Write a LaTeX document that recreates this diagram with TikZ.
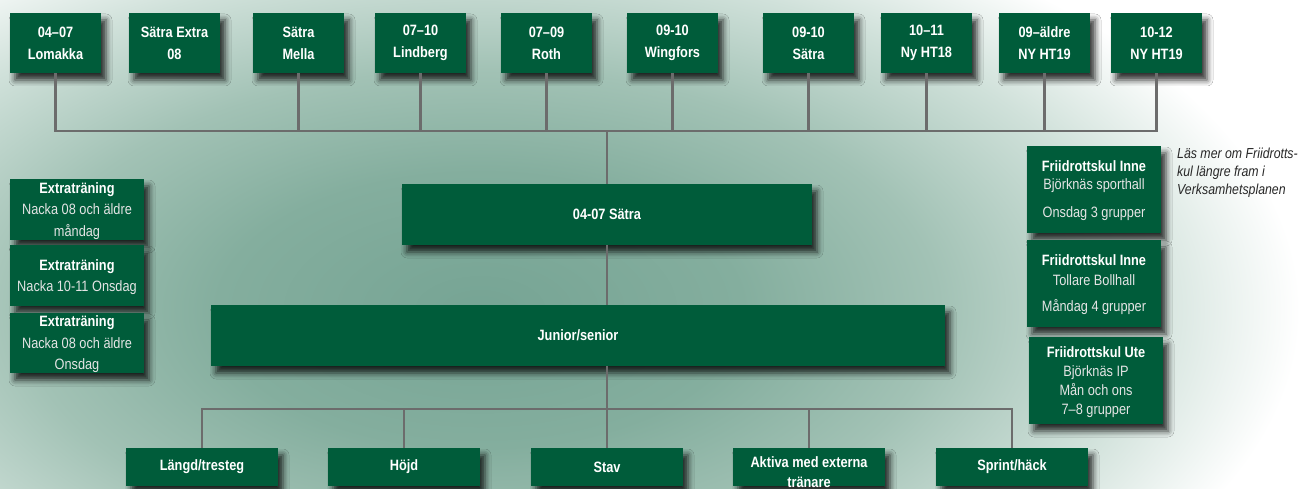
\documentclass[tikz,border=0pt]{standalone}
\usepackage{fontspec}
\setmainfont{Liberation Sans}[FakeStretch=0.85]
\usetikzlibrary{shadows.blur}
\definecolor{boxgreen}{RGB}{0,92,58}
\definecolor{linegray}{RGB}{108,108,108}
\definecolor{textgray}{RGB}{228,228,228}
\definecolor{notegray}{RGB}{40,40,40}
\definecolor{bgA}{RGB}{118,164,148}
\definecolor{bgB}{RGB}{132,174,158}
\definecolor{bgC}{RGB}{162,194,181}
\definecolor{bgD}{RGB}{208,225,218}
\pgfdeclareradialshading{bgshade}{\pgfpoint{0bp}{0bp}}{color(0bp)=(bgA); color(8bp)=(bgB); color(14bp)=(bgC); color(20bp)=(bgD); color(25bp)=(white); color(50bp)=(white)}
\newcommand{\boxhead}[1]{\textcolor{white}{\bfseries #1}}
\tikzset{
  box/.style={fill=boxgreen, draw=none, inner sep=2pt, align=center, text=white,
    font=\fontsize{15}{22}\selectfont\bfseries,
    blur shadow={shadow xshift=5pt, shadow yshift=-7pt, shadow blur radius=6pt, shadow opacity=80}},
  topbox/.style={box, minimum width=91pt, minimum height=60pt},
  midbox/.style={box, minimum height=61pt},
  botbox/.style={box, minimum width=152pt, minimum height=38pt},
  sidebox/.style={box, minimum width=134pt, text=textgray, text depth=0pt, font=\fontsize{15}{21.5}\selectfont},
  conn/.style={draw=linegray, line width=2.7pt},
  note/.style={font=\fontsize{14.5}{18}\selectfont\itshape, text=notegray, align=left, inner sep=0pt}
}
\begin{document}
\begin{tikzpicture}[x=1pt,y=-1pt]
\useasboundingbox (0,0) rectangle (1307,489);
\fill[white] (0,0) rectangle (1307,489);
\begin{scope}
\clip (0,0) rectangle (1307,489);
\shade[shading=bgshade] (480,310) ellipse (820 and 430);
\end{scope}

% top row
\node[topbox] (t1) at (55.5,43) {04–07\\Lomakka};
\node[topbox] (t2) at (174.5,43) {Sätra Extra\\08};
\node[topbox] (t3) at (298.5,43) {Sätra\\Mella};
\node[topbox] (t4) at (420.5,43) {07–10\\Lindberg};
\node[topbox] (t5) at (546.5,43) {07–09\\Roth};
\node[topbox] (t6) at (672.5,43) {09-10\\Wingfors};
\node[topbox] (t7) at (808.5,43) {09-10\\Sätra};
\node[topbox] (t8) at (926.5,43) {10–11\\Ny HT18};
\node[topbox] (t9) at (1044.5,43) {09–äldre\\NY HT19};
\node[topbox] (t10) at (1156.5,43) {10-12\\NY HT19};

% middle
\node[midbox, minimum width=410pt] (s) at (607,214.5) {04-07 Sätra};
\node[midbox, minimum width=734pt] (j) at (578,335.5) {Junior/senior};

% bottom row
\node[botbox] (b1) at (202,467) {Längd/tresteg};
\node[botbox] (b2) at (404,467) {Höjd};
\node[botbox] (b3) at (607,467) {Stav};
\node[botbox] (b4) at (809,467) {};
\node[text=white, align=center, inner sep=0pt, font=\fontsize{15}{20}\selectfont\bfseries] (b4t) at (809,472) {Aktiva med externa\\tränare};
\node[botbox] (b5) at (1012,467) {Sprint/häck};

% left boxes
\node[sidebox, minimum height=61pt] (l1) at (77,209.5) {\boxhead{Extraträning}\\Nacka 08 och äldre\\måndag};
\node[sidebox, minimum height=61pt] (l2) at (77,275.5) {\boxhead{Extraträning}\\Nacka 10-11 Onsdag};
\node[sidebox, minimum height=60pt] (l3) at (77,343) {\boxhead{Extraträning}\\Nacka 08 och äldre\\Onsdag};

% right boxes
\node[sidebox, minimum height=87pt, font=\fontsize{15}{18}\selectfont] (r1) at (1094,189.5) {\boxhead{Friidrottskul Inne}\\Björknäs sporthall\\[10pt]Onsdag 3 grupper};
\node[sidebox, minimum height=87pt, font=\fontsize{15}{20}\selectfont] (r2) at (1094,283.5) {\boxhead{Friidrottskul Inne}\\Tollare Bollhall\\[6pt]Måndag 4 grupper};
\node[sidebox, minimum height=87pt, font=\fontsize{15}{19}\selectfont] (r3) at (1096,380.5) {\boxhead{Friidrottskul Ute}\\Björknäs IP\\Mån och ons\\7–8 grupper};

\node[note, anchor=north west] (n1) at (1177,148) {Läs mer om Friidrotts-\\kul längre fram i\\Verksamhetsplanen};

% connectors
\coordinate (bus) at (607,131);
\foreach \n in {t1,t3,t4,t5,t6,t7,t8,t9,t10}
  \draw[conn] (\n.south) |- (bus);
\draw[conn] (bus) -- (s.north);
\draw[conn] (s.south) -- (s.south |- j.north);
\coordinate (bbus) at (607,409);
\draw[conn] (s.south |- j.south) -- (b3.north);
\foreach \b in {b1,b2,b4,b5}
  \draw[conn] (bbus) -| (\b.north);
\end{tikzpicture}
\end{document}
